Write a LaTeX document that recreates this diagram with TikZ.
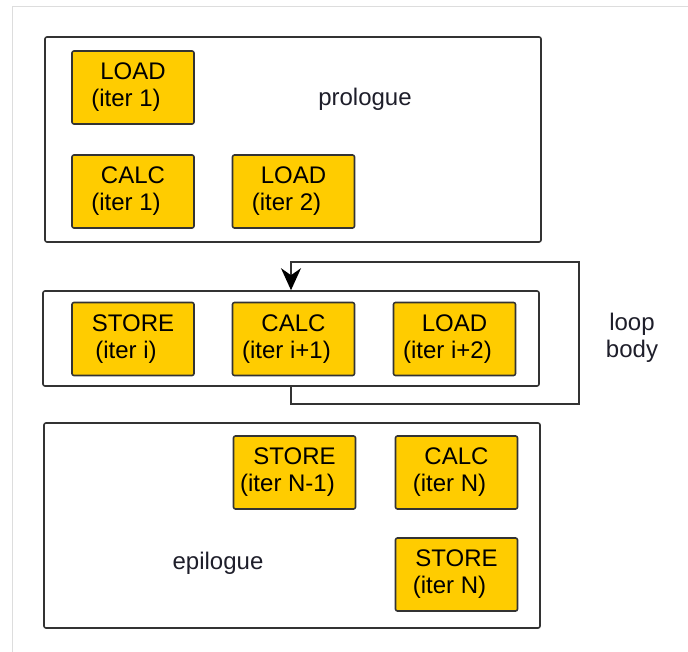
\documentclass[tikz,border=0pt]{standalone}
\usepackage{fontspec}
\setmainfont{Liberation Sans}
\usetikzlibrary{arrows.meta}
\definecolor{stageyellow}{HTML}{FFCC00}
\definecolor{edgegray}{HTML}{333333}
\definecolor{framegray}{HTML}{DDDDDD}
\definecolor{labelink}{HTML}{1E1E2A}
\newcommand\tailpad{\hbox to 14pt{}}
\begin{document}
\begin{tikzpicture}[x=1pt,y=-1pt,
  font=\fontsize{24}{27}\selectfont,
  stagebox/.style={draw=edgegray,line width=1.6pt,rounded corners=2pt,
    minimum width=496pt,inner sep=0pt},
  opbox/.style={draw=edgegray,fill=stageyellow,line width=1.6pt,rounded corners=2pt,
    minimum width=122pt,minimum height=73pt,inner sep=0pt,align=center,text=black},
  tag/.style={text=labelink,align=center,inner sep=0pt},
  loopline/.style={draw=edgegray,line width=1.6pt,
    -{Stealth[length=22pt,width=20pt,inset=7pt,color=black]}}]
\useasboundingbox (0,0) rectangle (688,652);
\fill[white] (0,0) rectangle (688,652);
% faint page frame
\draw[framegray,line width=1pt] (12,652) -- (12,7) -- (688,7);

% prologue
\node[stagebox,minimum height=205pt] (pro) at (293,139.5) {};
\node[opbox] (p1) at (133,87.5) {LOAD\\(iter 1)\tailpad};
\node[opbox] (p2) at (133,191.5) {CALC\\(iter 1)\tailpad};
\node[opbox] (p3) at (293.5,191.5) {LOAD\\(iter 2)\tailpad};
\node[tag] (protag) at (365,99) {prologue};

% loop body
\node[stagebox,minimum height=95pt] (loop) at (291,338.5) {};
\node[opbox] (l1) at (133,339) {STORE\\(iter i)\tailpad};
\node[opbox] (l2) at (293.5,339) {CALC\\(iter i+1)\tailpad};
\node[opbox] (l3) at (454.5,339) {LOAD\\(iter i+2)\tailpad};
\node[tag] (looptag) at (632,338) {loop\\body};

% back edge of the loop
\coordinate (lpx) at (291,0);
\coordinate (lpbot) at (579,404);
\coordinate (lptop) at (291,262);
\draw[loopline] (loop.south -| lpx) |- (lpbot) |- (lptop) -- (loop.north -| lpx);

% epilogue
\node[stagebox,minimum height=205pt] (epi) at (292,525.5) {};
\node[opbox] (e1) at (294.5,472.5) {STORE\\(iter N-1)\tailpad};
\node[opbox] (e2) at (456.5,472.5) {CALC\\(iter N)\tailpad};
\node[opbox] (e3) at (456.5,574.5) {STORE\\(iter N)\tailpad};
\node[tag] (epitag) at (218,563) {epilogue};
\end{tikzpicture}
\end{document}
